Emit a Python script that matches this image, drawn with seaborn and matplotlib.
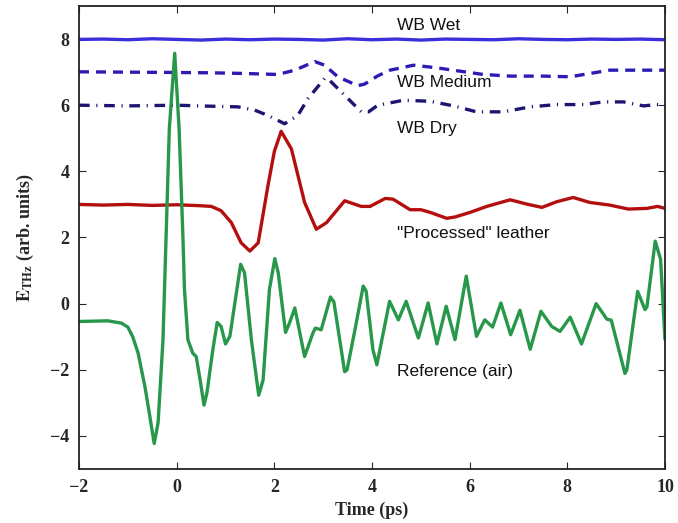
import matplotlib
matplotlib.use("Agg")
import matplotlib.pyplot as plt
import seaborn as sns

# WB Wet (solid blue, ~8)
t_wet = [-2.0, -1.5, -1.0, -0.5, 0.0, 0.5, 1.0, 1.5, 2.0, 2.5, 3.0, 3.5, 4.0,
         4.5, 5.0, 5.5, 6.0, 6.5, 7.0, 7.5, 8.0, 8.5, 9.0, 9.5, 10.0]
e_wet = [7.99, 8.00, 7.98, 8.01, 7.99, 7.97, 8.00, 7.98, 8.00, 7.99, 7.97, 8.01,
         7.98, 8.00, 7.97, 8.00, 7.99, 7.98, 8.01, 7.99, 7.98, 8.00, 7.99, 8.00, 7.98]

# WB Medium (dashed, ~7)
t_med = [-2.0, -1.0, 0.0, 0.7, 1.39, 2.07, 2.42, 2.83, 3.03, 3.30, 3.71, 3.85,
         4.12, 4.37, 4.85, 5.33, 5.80, 6.28, 6.83, 7.51, 8.06, 8.46, 8.87, 9.42, 10.0]
e_med = [7.01, 7.00, 6.99, 6.98, 6.96, 6.93, 7.06, 7.32, 7.21, 6.86, 6.59, 6.64,
         6.89, 7.06, 7.21, 7.13, 7.03, 6.93, 6.88, 6.88, 6.86, 6.96, 7.06, 7.06, 7.06]

# WB Dry (dash-dot, ~6)
t_dry = [-2.0, -1.0, 0.0, 0.7, 1.26, 1.60, 1.87, 2.21, 2.48, 2.69, 3.03, 3.10,
         3.44, 3.78, 3.93, 4.12, 4.30, 4.64, 5.19, 5.67, 6.14, 6.69, 7.24, 7.78,
         8.33, 8.74, 9.15, 9.56, 9.83, 10.0]
e_dry = [6.00, 5.98, 6.00, 5.97, 5.95, 5.85, 5.69, 5.44, 5.69, 6.20, 6.81, 6.80,
         6.30, 5.80, 5.80, 6.00, 6.05, 6.15, 6.12, 5.98, 5.80, 5.80, 5.95, 6.02,
         6.02, 6.10, 6.10, 5.98, 6.02, 6.00]

# "Processed" leather (red, ~3)
t_proc = [-2.0, -1.5, -1.0, -0.5, 0.0, 0.5, 0.71, 0.91, 1.12, 1.32, 1.50, 1.67,
          1.87, 2.0, 2.14, 2.35, 2.62, 2.86, 3.07, 3.44, 3.78, 3.96, 4.27, 4.43,
          4.78, 5.0, 5.19, 5.53, 5.70, 6.01, 6.35, 6.83, 7.17, 7.48, 7.78, 8.12,
          8.46, 8.87, 9.25, 9.63, 9.85, 10.0]
e_proc = [3.00, 2.98, 3.00, 2.97, 2.99, 2.96, 2.94, 2.81, 2.45, 1.84, 1.59, 1.84,
          3.57, 4.60, 5.21, 4.68, 3.06, 2.25, 2.45, 3.11, 2.94, 2.94, 3.18, 3.16,
          2.84, 2.84, 2.76, 2.58, 2.62, 2.76, 2.94, 3.14, 3.01, 2.91, 3.08, 3.21,
          3.06, 2.98, 2.86, 2.88, 2.94, 2.88]

# Reference (air) (green)
t_ref = [-2.0, -1.7, -1.41, -1.13, -1.0, -0.9, -0.79, -0.65, -0.55, -0.46, -0.38,
         -0.28, -0.15, -0.04, 0.05, 0.13, 0.16, 0.23, 0.33, 0.40, 0.48, 0.56,
         0.62, 0.74, 0.83, 0.91, 1.0, 1.09, 1.2, 1.31, 1.39, 1.53, 1.68, 1.77,
         1.90, 2.01, 2.08, 2.23, 2.31, 2.42, 2.62, 2.79, 2.84, 2.96, 3.15, 3.22,
         3.44, 3.49, 3.65, 3.82, 3.88, 4.02, 4.10, 4.36, 4.54, 4.70, 4.95, 5.15,
         5.33, 5.52, 5.70, 5.93, 6.14, 6.31, 6.47, 6.64, 6.84, 7.03, 7.24, 7.46,
         7.68, 7.85, 8.06, 8.29, 8.59, 8.81, 8.90, 9.18, 9.22, 9.44, 9.59, 9.63,
         9.80, 9.91, 10.0]
e_ref = [-0.54, -0.53, -0.52, -0.59, -0.71, -1.00, -1.49, -2.51, -3.40, -4.23, -3.60,
         -1.10, 5.29, 7.57, 5.29, 1.95, 0.43, -1.09, -1.50, -1.60, -2.30, -3.07,
         -2.70, -1.40, -0.57, -0.69, -1.22, -0.99, 0.10, 1.19, 0.93, -1.09, -2.77, -2.31,
         0.43, 1.36, 0.93, -0.87, -0.59, -0.13, -1.60, -0.89, -0.74, -0.79, 0.20, 0.05,
         -2.06, -2.00, -0.80, 0.53, 0.38, -1.40, -1.85, 0.07, -0.49, 0.07, -1.04, 0.02,
         -1.22, -0.08, -1.09, 0.83, -0.99, -0.49, -0.71, 0.02, -0.94, -0.20, -1.38, -0.23,
         -0.69, -0.84, -0.41, -1.22, 0.00, -0.47, -0.50, -2.11, -2.00, 0.37, -0.18, -0.10,
         1.89, 1.34, -1.09]

labels = ["WB Wet", "WB Medium", "WB Dry", '"Processed" leather', "Reference (air)"]
label_y = [8.42, 6.68, 5.3, 2.12, -2.04]

sns.set_style("ticks")
plt.rcParams["mathtext.fontset"] = "stix"
plt.rcParams["font.family"] = ["Liberation Serif", "DejaVu Serif"]

fig = plt.figure(figsize=(6.78, 5.23), dpi=100)
ax = fig.add_axes([0.1165, 0.1033, 0.8643, 0.8852])

lw = 2.4
sns.lineplot(x=t_wet, y=e_wet, ax=ax, color="#3b2fdc", lw=lw)
sns.lineplot(x=t_med, y=e_med, ax=ax, color="#2c1cb4", lw=lw, linestyle=(0, (3.0, 2.1)))
sns.lineplot(x=t_dry, y=e_dry, ax=ax, color="#1d1572", lw=lw,
             linestyle=(0, (3.2, 2.0, 0.35, 2.0)))
sns.lineplot(x=t_proc, y=e_proc, ax=ax, color="#b40f0f", lw=lw)
sns.lineplot(x=t_ref, y=e_ref, ax=ax, color="#27984a", lw=lw)

for txt, yy in zip(labels, label_y):
    ax.text(4.51, yy, txt, fontsize=12.5, family=["Liberation Sans", "DejaVu Sans"],
            va="center", ha="left", color="#111111")

ax.set_xlim(-2, 10)
ax.set_ylim(-5, 9)
ax.set_xticks([-2, 0, 2, 4, 6, 8, 10])
ax.set_yticks([-4, -2, 0, 2, 4, 6, 8])
ax.tick_params(direction="in", top=True, right=True, length=5, width=0.8,
               labelsize=13, pad=7)
for lab in ax.get_xticklabels() + ax.get_yticklabels():
    lab.set_fontweight("bold")
for sp in ax.spines.values():
    sp.set_linewidth(1.3)
    sp.set_color("#222222")

ax.set_xlabel("Time (ps)", fontsize=13, fontweight="bold", labelpad=4)
ax.set_ylabel(r"$\mathbf{E}_{\mathbf{THz}}$ (arb. units)", fontsize=13,
              fontweight="bold", labelpad=10)

fig.savefig("out.png", dpi=100)
plt.close(fig)
